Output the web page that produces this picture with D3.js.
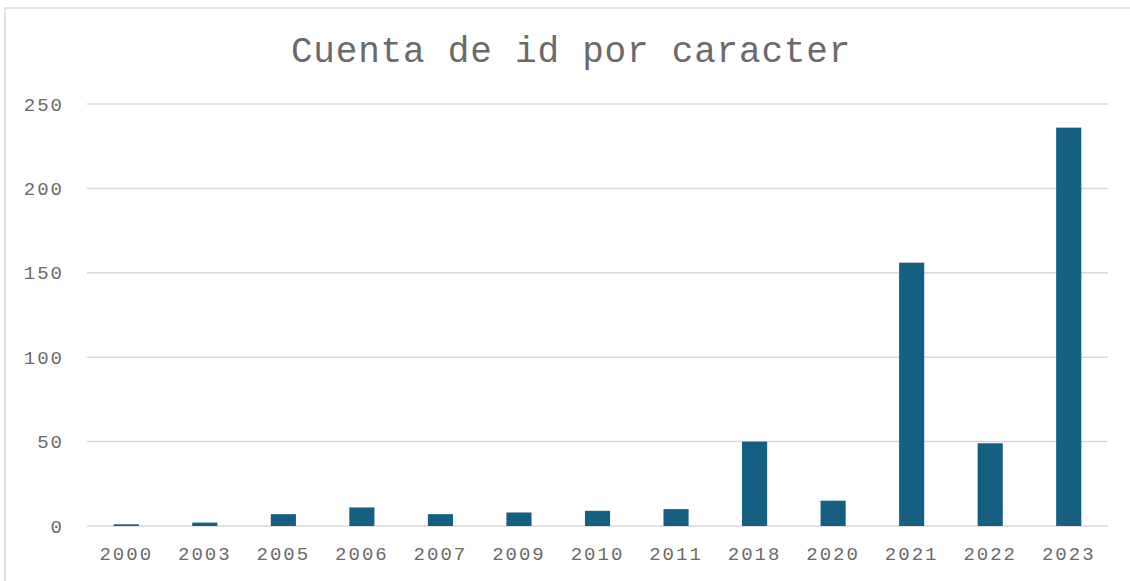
<!DOCTYPE html>
<html>
<head>
<meta charset="utf-8">
<script src="https://cdn.jsdelivr.net/npm/d3@7"></script>
<style>
  html, body { margin: 0; padding: 0; background: #fff; }
  svg { display: block; }
  .tick-label { font-family: "Liberation Mono", "Courier New", monospace; fill: #6a6a6a; }
</style>
</head>
<body>
<svg id="chart" width="1130" height="581"></svg>
<script>
// data
const years = ['2000', '2003', '2005', '2006', '2007', '2009', '2010', '2011', '2018', '2020', '2021', '2022', '2023'];
const counts = [1, 2, 7, 11, 7, 8, 9, 10, 50, 15, 156, 49, 236];
const yTicks = [0, 50, 100, 150, 200, 250];
const chartTitle = 'Cuenta de id por caracter';

const W = 1130, H = 581;
const margin = { left: 87, right: 22, top: 104, bottom: 55 };

const svg = d3.select('#chart');

// outer chart border (runs off the right and bottom edge)
svg.append('rect')
    .attr('x', 5).attr('y', 8)
    .attr('width', W).attr('height', H)
    .attr('fill', 'none')
    .attr('stroke', '#d9d9d9')
    .attr('stroke-width', 1.5);

const x = d3.scaleBand()
    .domain(years)
    .range([margin.left, W - margin.right])
    .paddingInner(0.68)
    .paddingOuter(0.34);

const y = d3.scaleLinear()
    .domain([0, 250])
    .range([H - margin.bottom, margin.top]);

// gridlines
svg.append('g')
    .selectAll('line')
    .data(yTicks)
    .enter().append('line')
    .attr('x1', margin.left)
    .attr('x2', W - margin.right)
    .attr('y1', d => y(d))
    .attr('y2', d => y(d))
    .attr('stroke', '#d9d9d9')
    .attr('stroke-width', 1.5);

// y labels
svg.append('g')
    .selectAll('text')
    .data(yTicks)
    .enter().append('text')
    .attr('class', 'tick-label')
    .attr('x', 64)
    .attr('y', d => y(d))
    .attr('dy', '0.35em')
    .attr('text-anchor', 'end')
    .attr('font-size', '19px')
    .attr('letter-spacing', '2px')
    .text(d => d);

// bars
svg.append('g')
    .selectAll('rect')
    .data(years.map((yr, i) => ({ yr, v: counts[i] })))
    .enter().append('rect')
    .attr('x', d => x(d.yr))
    .attr('width', x.bandwidth())
    .attr('y', d => y(d.v))
    .attr('height', d => y(0) - y(d.v))
    .attr('fill', '#156082');

// x labels
svg.append('g')
    .selectAll('text')
    .data(years)
    .enter().append('text')
    .attr('class', 'tick-label')
    .attr('x', d => x(d) + x.bandwidth() / 2)
    .attr('y', H - margin.bottom + 34)
    .attr('text-anchor', 'middle')
    .attr('font-size', '19px')
    .attr('letter-spacing', '2px')
    .text(d => d);

// title
svg.append('text')
    .attr('x', 571)
    .attr('y', 62)
    .attr('text-anchor', 'middle')
    .attr('font-family', '"Liberation Mono", "Courier New", monospace')
    .attr('font-size', '36px')
    .attr('letter-spacing', '0.8px')
    .attr('fill', '#6a6a6a')
    .text(chartTitle);
</script>
</body>
</html>
